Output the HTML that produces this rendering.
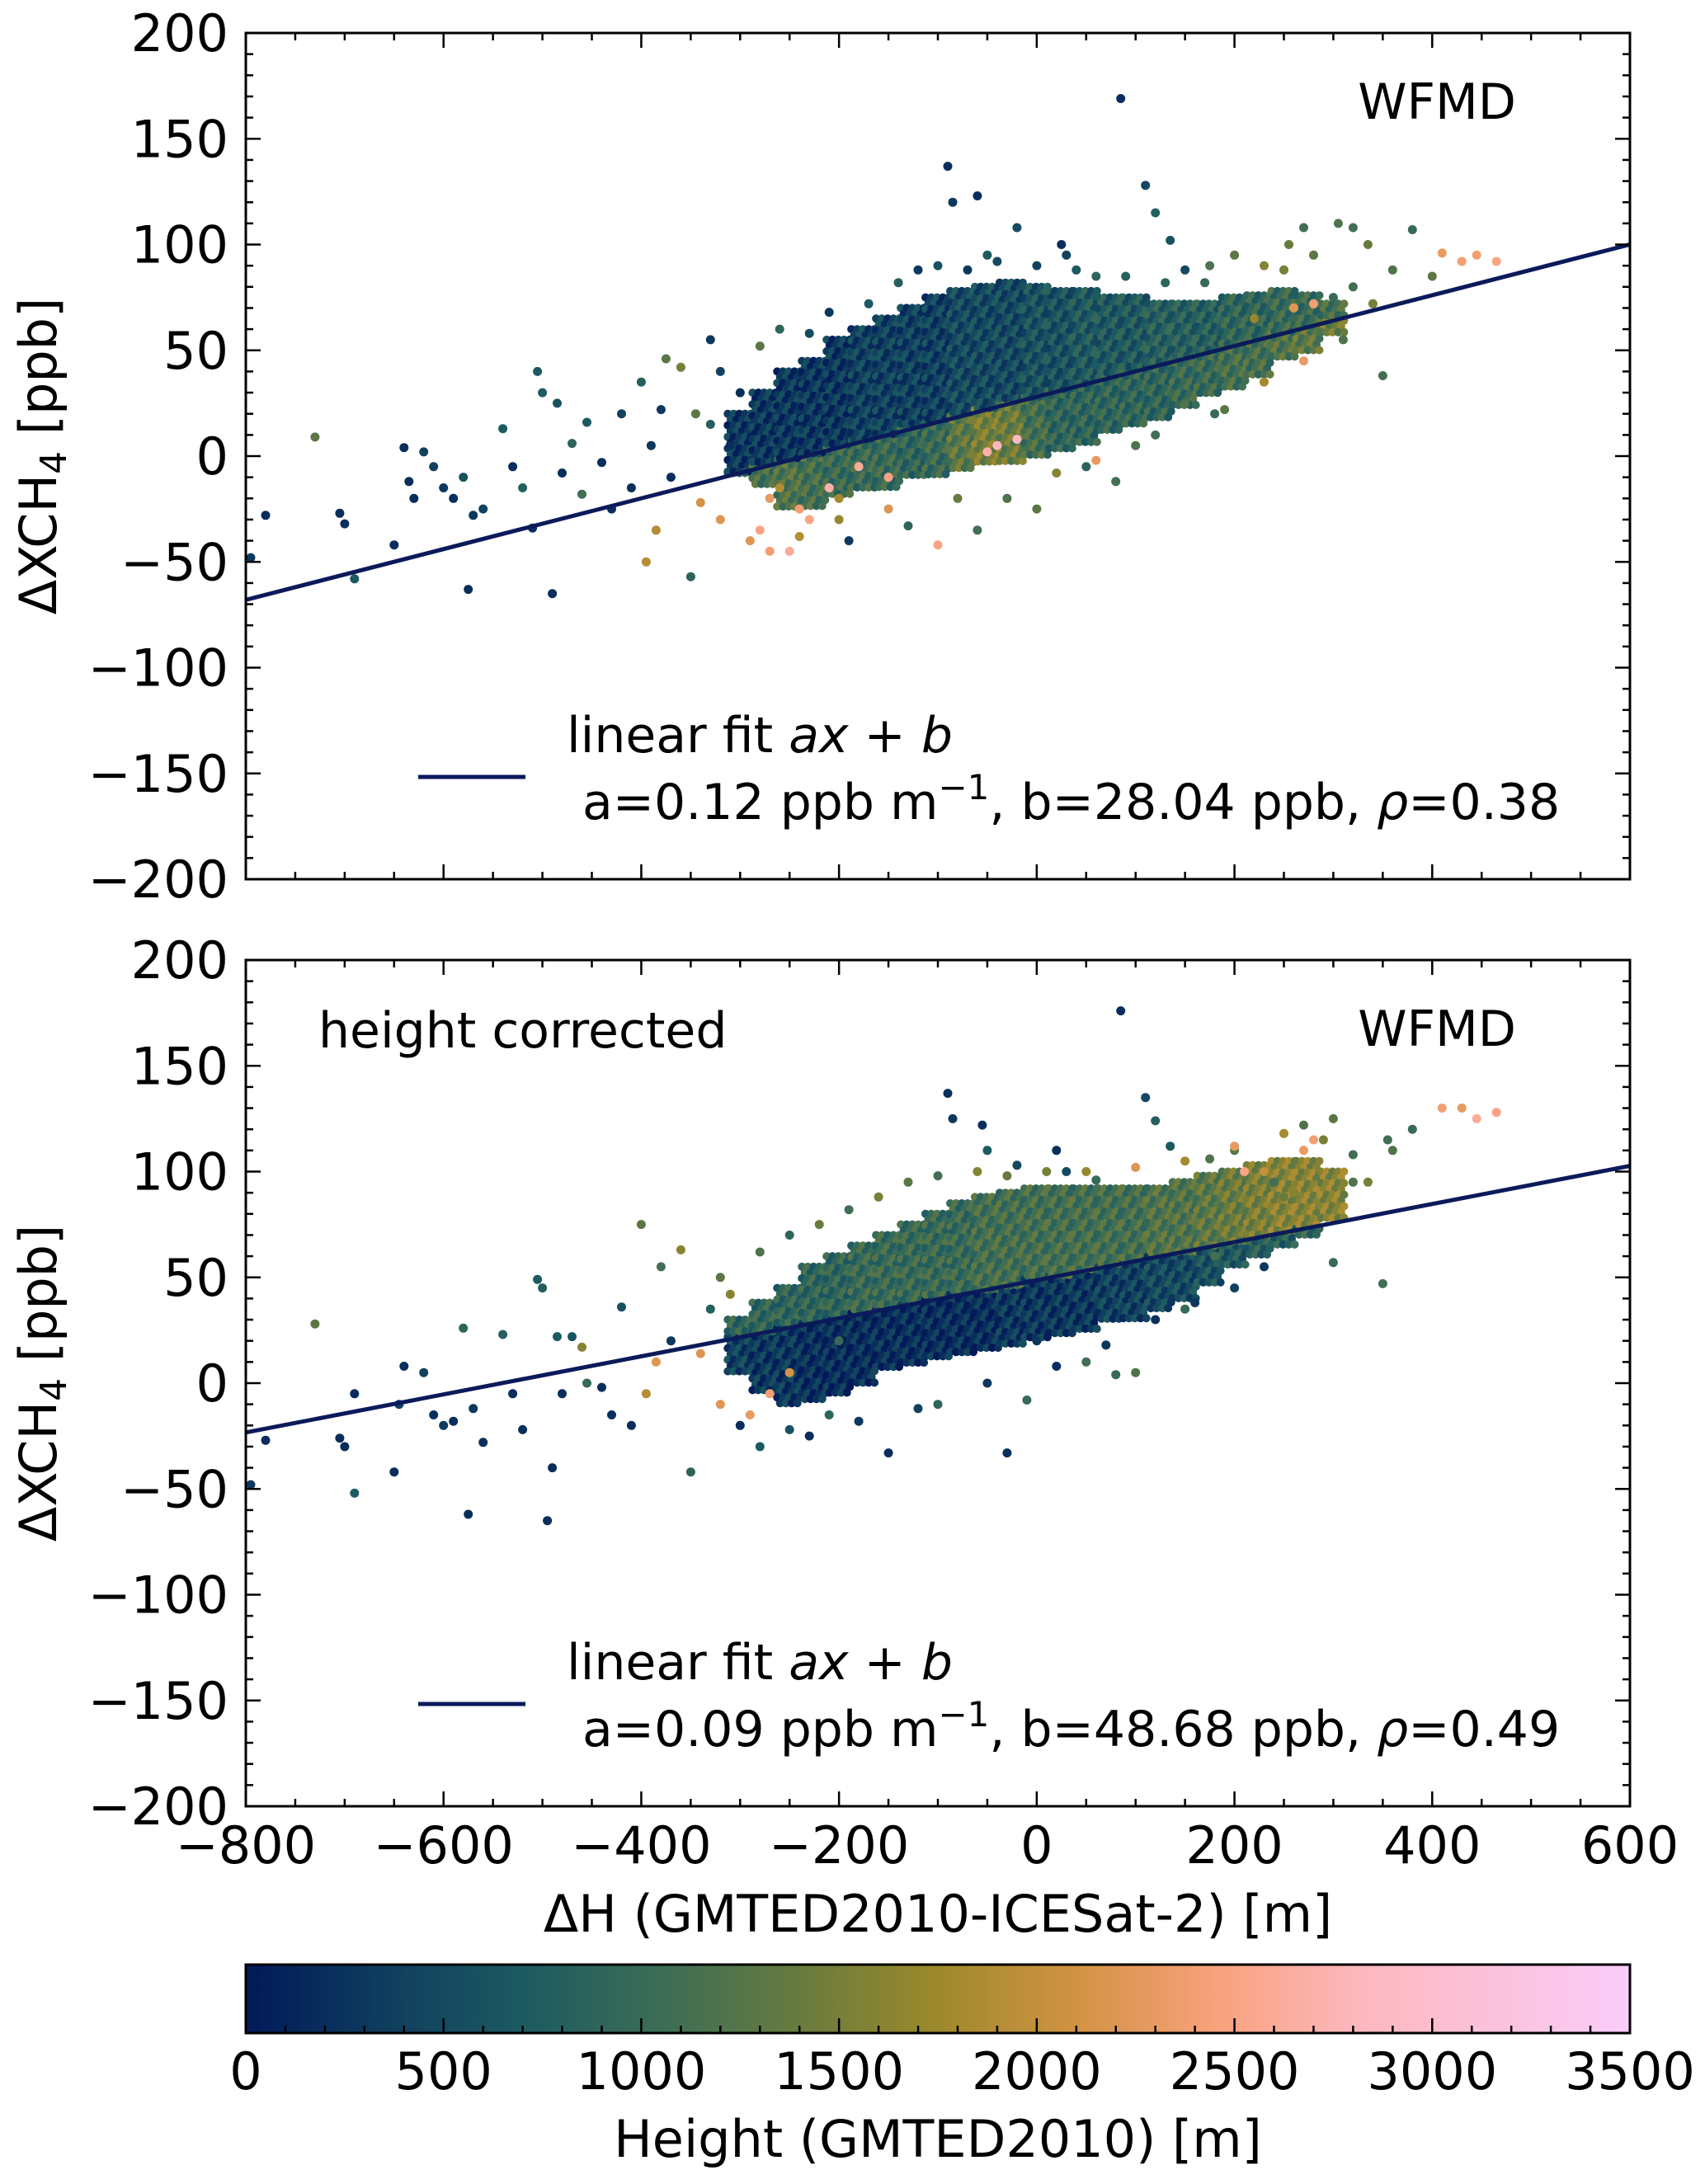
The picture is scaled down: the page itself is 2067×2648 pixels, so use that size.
<!DOCTYPE html>
<html><head><meta charset="utf-8"><style>
html,body{margin:0;padding:0;background:#fff;}
svg{display:block;font-family:"DejaVu Sans","Liberation Sans",sans-serif;}
</style></head><body>
<svg id="fig" width="2067" height="2648" viewBox="0 0 2067 2648" xmlns="http://www.w3.org/2000/svg">
<defs><linearGradient id="batlow" x1="0" x2="1" y1="0" y2="0"></linearGradient></defs>
<g id="layer"></g>
</svg>
<script>
// ---- data ----
const fitTop = [0.12, 28.04];
const fitBot = [0.09, 48.68];
const xTicks = [-800,-600,-400,-200,0,200,400,600];
const yTicks = [-200,-150,-100,-50,0,50,100,150,200];
const cbTicks = [0,500,1000,1500,2000,2500,3000,3500];
// core density bins (x centre, lower/mid/upper bounds, mean heights below/above mid)
const topCoreX = [-300,-275,-250,-225,-200,-175,-150,-125,-100,-75,-50,-25,0,25,50,75,100,125,150,175,200,225,250,275,300];
const topCoreLo = [-10,-15,-25,-25,-20,-15,-15,-10,-10,-8,-5,-5,0,3,5,10,15,18,22,28,32,38,45,50,58];
const topCoreMid = [-8,-5,-2,1,4,7,10,13,16,19,22,25,28,31,34,37,40,43,46,49,52,55,58,61,64];
const topCoreHi = [20,30,40,45,55,60,65,70,75,78,80,82,80,78,78,75,75,72,72,72,75,76,78,76,72];
const topCoreLowH = [1000,1100,1200,1100,1000,1000,1000,900,1000,1300,1500,1400,1100,900,900,900,900,900,1000,1000,1100,1100,1200,1300,1400];
const topCoreUpH = [300,300,300,300,300,400,400,400,400,500,500,500,600,600,700,700,700,800,800,800,900,900,1000,1000,1100];
const botCoreX = [-300,-275,-250,-225,-200,-175,-150,-125,-100,-75,-50,-25,0,25,50,75,100,125,150,175,200,225,250,275,300];
const botCoreLo = [5,-5,-12,-10,-5,0,5,8,10,12,15,18,20,22,25,28,30,35,40,45,55,60,65,70,78];
const botCoreMid = [22,24,26,28,31,33,35,37,40,42,44,46,49,51,53,55,58,60,62,64,67,69,71,73,76];
const botCoreHi = [30,38,45,55,60,65,70,75,80,85,88,90,92,92,92,92,92,92,95,98,100,103,105,105,100];
const botCoreLowH = [400,300,300,200,200,200,200,200,200,200,200,300,300,300,300,400,400,500,500,600,700,800,800,900,900];
const botCoreUpH = [900,900,900,900,900,1000,1000,1000,1000,1000,1100,1100,1100,1100,1100,1100,1100,1200,1200,1300,1400,1500,1600,1600,1600];
// scattered points [dH, dXCH4, height]
const topPts = [[-795,-48,300],[-780,-28,200],[-730,9,1300],[-705,-27,200],[-700,-32,200],[-690,-58,700],[-650,-42,200],[-640,4,200],[-635,-12,200],[-630,-20,200],[-620,2,400],[-610,-5,400],[-600,-15,300],[-590,-20,200],[-580,-10,600],[-575,-63,200],[-570,-28,300],[-560,-25,400],[-540,13,700],[-530,-5,200],[-520,-15,800],[-510,-34,200],[-505,40,700],[-500,30,700],[-490,-65,200],[-485,25,600],[-480,-8,200],[-470,6,900],[-460,-18,1100],[-455,16,700],[-440,-3,200],[-430,-25,200],[-420,20,400],[-410,-15,200],[-400,35,800],[-395,-50,1900],[-390,5,300],[-385,-35,1900],[-380,22,300],[-375,46,1300],[-370,-10,200],[-360,42,1500],[-350,-57,900],[-345,20,1300],[-340,-22,2100],[-330,15,800],[-320,-30,2200],[-310,5,200],[-300,30,200],[-290,-40,2200],[-280,-35,2500],[-270,-20,2300],[-260,-15,1900],[-250,-45,2600],[-240,-25,2400],[-230,-30,2500],[-210,-15,2700],[-200,-20,1800],[-190,-40,300],[-180,-5,2600],[-150,-10,2500],[-90,137,200],[-85,120,300],[-60,123,200],[-50,95,700],[-20,108,500],[25,100,200],[30,95,400],[60,85,900],[85,169,200],[110,128,500],[120,115,800],[135,102,600],[150,88,500],[175,90,1200],[200,95,1300],[255,100,1400],[270,108,1100],[280,95,1300],[305,110,1200],[320,108,1100],[335,100,1400],[360,88,1200],[380,107,1000],[400,85,1300],[410,96,2300],[430,92,2400],[445,95,2400],[465,92,2500],[350,38,1100],[300,75,1000],[250,88,1500],[220,65,1700],[260,70,2200],[280,72,2400],[230,90,1600],[180,20,1000],[150,25,1200],[100,5,1200],[80,-12,1100],[50,-5,900],[0,-25,1300],[-30,-20,1200],[-60,-35,1100],[-100,-42,2500],[-130,-33,900],[-40,5,2800],[-20,8,2900],[-50,2,2700],[-320,40,400],[-330,55,300],[-280,52,1300],[-260,60,900],[-230,58,500],[-210,68,300],[-170,72,700],[-140,82,800],[-120,88,300],[-100,90,600],[-70,88,300],[-40,92,500],[0,90,400],[40,88,700],[90,85,800],[130,82,900],[170,82,1000],[320,80,1100],[340,72,1500],[310,55,1200],[270,45,2300],[230,35,1800],[190,22,1300],[120,10,1100],[60,-2,2300],[20,-8,1600],[-80,-20,1400],[-150,-25,2200],[-200,-30,1700],[-240,-38,1900],[-270,-45,2400]];
const botPts = [[-795,-48,300],[-780,-27,200],[-730,28,1300],[-705,-26,200],[-700,-30,200],[-690,-52,700],[-690,-5,200],[-650,-42,200],[-645,-10,400],[-640,8,200],[-620,5,400],[-610,-15,200],[-600,-20,300],[-590,-18,200],[-580,26,900],[-575,-62,200],[-570,-12,300],[-560,-28,200],[-540,23,800],[-530,-5,200],[-520,-22,200],[-505,49,700],[-500,45,800],[-495,-65,200],[-490,-40,200],[-485,22,700],[-480,-5,200],[-470,22,600],[-460,17,1600],[-455,0,1000],[-440,-2,200],[-430,-15,200],[-420,36,600],[-410,-20,200],[-400,75,1300],[-395,-5,1900],[-385,10,2200],[-380,55,1100],[-370,20,300],[-360,63,1600],[-350,-42,900],[-340,14,2200],[-330,35,800],[-320,-10,2200],[-310,42,1600],[-300,-20,200],[-290,-15,2300],[-270,-5,2400],[-250,5,2100],[-230,-25,200],[-210,-15,900],[-150,-33,200],[-100,-10,900],[-30,-33,200],[-90,137,200],[-85,125,300],[-55,122,200],[-50,110,700],[-20,103,500],[20,110,200],[30,100,500],[60,96,1000],[85,176,200],[110,135,500],[120,124,800],[135,112,700],[175,106,1200],[200,110,1300],[250,118,1800],[270,122,1200],[290,115,1500],[300,125,1300],[320,108,1100],[335,95,1500],[355,115,1100],[380,120,1000],[360,110,1200],[410,130,2400],[430,130,2300],[445,125,2600],[465,128,2500],[350,47,1100],[300,57,1000],[250,88,1400],[270,110,2300],[280,115,2400],[230,100,2000],[210,100,2500],[180,60,1100],[150,35,1000],[100,5,1200],[80,4,1000],[50,10,1100],[-10,-8,1000],[0,20,300],[-200,20,1000],[-320,50,1300],[-280,62,1200],[-250,70,900],[-220,75,1400],[-190,82,1100],[-160,88,1500],[-130,95,1300],[-100,98,1100],[-60,100,1600],[-30,98,1400],[10,100,1500],[50,100,1700],[100,102,2200],[150,105,1800],[200,112,2300],[240,95,1100],[260,90,1600],[320,95,1200],[230,55,300],[200,45,400],[160,38,300],[120,30,200],[70,18,300],[20,8,200],[-50,0,300],[-120,-12,400],[-180,-18,300],[-250,-22,600],[-280,-30,700]];
const cmapStops = [[0,"#011959"],[0.1,"#0f3d5e"],[0.2,"#1c5a62"],[0.3,"#3c6d56"],[0.4,"#687b3e"],[0.5,"#9d892b"],[0.6,"#d29343"],[0.7,"#f8a17b"],[0.8,"#fdb7bc"],[1,"#faccfa"]];

// ---- layout ----
const NS="http://www.w3.org/2000/svg";
const L=298,R=1976;
const panels=[{t:40,b:1066},{t:1164,b:2190}];
const X=v=>L+(v+800)*(R-L)/1400;
const mkY=p=>v=>p.t+(200-v)*(p.b-p.t)/400;
const layer=document.getElementById('layer');
function el(tag,attrs,parent){const e=document.createElementNS(NS,tag);for(const k in attrs)e.setAttribute(k,attrs[k]);(parent||layer).appendChild(e);return e;}
function hex(h){return [1,3,5].map(i=>parseInt(h.substr(i,2),16));}
function cmap(h){let t=Math.max(0,Math.min(1,h/3500));for(let i=1;i<cmapStops.length;i++){if(t<=cmapStops[i][0]){const a=cmapStops[i-1],b=cmapStops[i];const f=(t-a[0])/(b[0]-a[0]);const ca=hex(a[1]),cb=hex(b[1]);return 'rgb('+ca.map((c,j)=>Math.round(c+(cb[j]-c)*f)).join(',')+')';}}return cmapStops[cmapStops.length-1][1];}
const grad=document.getElementById('batlow');
cmapStops.forEach(s=>{const st=document.createElementNS(NS,'stop');st.setAttribute('offset',s[0]);st.setAttribute('stop-color',s[1]);grad.appendChild(st);});

function drawPanel(p,idx,cx,lo,mid,hi,lowH,upH,pts,fit,pname){
  const Y=mkY(p);
  const g=el('g',{});
  
  
  const clip=el('clipPath',{id:'clip'+idx},g);
  el('rect',{x:L,y:p.t,width:R-L,height:p.b-p.t},clip);
  const sc=el('g',{'clip-path':'url(#clip'+idx+')'},g);
  
  
  const bw=25, step=7;
  cx.forEach((x,i)=>{
    const x0=X(x-bw/2),x1=X(x+bw/2);
    const parts=[[lo[i],mid[i],lowH[i]],[mid[i],hi[i],upH[i]]];
    parts.forEach((pp,pi)=>{
      const ya=Y(pp[1]),yb=Y(pp[0]);
      const cols=[cmap(pp[2]),cmap(pp[2]+250),cmap(Math.max(0,pp[2]-250))];
      let k=0;
      for(let yy=ya;yy<=yb;yy+=step){let m=0;for(let xx=x0+((k%2)?step/2:0);xx<=x1;xx+=step){
        const c=el('circle',{cx:xx.toFixed(1),cy:yy.toFixed(1),r:5,fill:cols[(k+m+i)%3]},sc);
        
        
        m++;
      }k++;}
    });
  });
  pts.forEach(d=>{
    const c=el('circle',{cx:X(d[0]).toFixed(1),cy:Y(d[1]).toFixed(1),r:5.5,fill:cmap(d[2])},sc);
    
    
  });
  const fl=el('line',{x1:X(-800),y1:Y(fit[0]*-800+fit[1]),x2:X(600),y2:Y(fit[0]*600+fit[1]),stroke:'#0a1a5a','stroke-width':5},sc);
  
  
  const fr=el('rect',{x:L,y:p.t,width:R-L,height:p.b-p.t,fill:'none',stroke:'#000','stroke-width':3},g);
  
  
  for(let v=-200;v<=200;v+=10){const y=Y(v);const major=v%50===0;const len=major?18:9;
    el('line',{x1:L,y1:y,x2:L+len,y2:y,stroke:'#000','stroke-width':2.5},g);
    el('line',{x1:R,y1:y,x2:R-len,y2:y,stroke:'#000','stroke-width':2.5},g);}
  yTicks.forEach(v=>{const t=el('text',{x:277,y:Y(v)+22,'text-anchor':'end','font-size':62},g);t.textContent=(v<0?'\u2212':'')+Math.abs(v);
    
    });
  for(let v=-800;v<=600;v+=50){const x=X(v);const major=v%200===0;const len=major?18:9;
    el('line',{x1:x,y1:p.b,x2:x,y2:p.b-len,stroke:'#000','stroke-width':2.5},g);
    el('line',{x1:x,y1:p.t,x2:x,y2:p.t+len,stroke:'#000','stroke-width':2.5},g);}
  const yl=el('text',{x:0,y:0,'text-anchor':'middle','font-size':62,transform:'translate(68,'+((p.t+p.b)/2)+') rotate(-90)'},g);
  yl.innerHTML='\u0394XCH<tspan font-size="44" dy="12">4</tspan><tspan dy="-12"> [ppb]</tspan>';
  
  
  const w=el('text',{x:1838,y:p.t+104,'text-anchor':'end','font-size':60},g);w.textContent='WFMD';
  
  
  const lg=el('g',{},g);
  
  
  el('line',{x1:507,y1:p.t+902,x2:637,y2:p.t+902,stroke:'#0a1a5a','stroke-width':5},lg);
  const t1=el('text',{x:687,y:p.t+872,'font-size':60},lg);
  t1.innerHTML='linear fit <tspan font-style="italic">ax</tspan> + <tspan font-style="italic">b</tspan>';
  const t2=el('text',{x:706,y:p.t+953,'font-size':60},lg);
  const rho = idx===0?'0.38':'0.49';
  t2.innerHTML='a='+fit[0].toFixed(2)+' ppb m<tspan font-size="42" dy="-24">\u22121</tspan><tspan dy="24">, b='+fit[1].toFixed(2)+' ppb, </tspan><tspan font-style="italic">\u03c1</tspan>='+rho;
}
drawPanel(panels[0],0,topCoreX,topCoreLo,topCoreMid,topCoreHi,topCoreLowH,topCoreUpH,topPts,fitTop,'top-panel');
drawPanel(panels[1],1,botCoreX,botCoreLo,botCoreMid,botCoreHi,botCoreLowH,botCoreUpH,botPts,fitBot,'bottom-panel');
const hc=el('text',{x:386,y:1270,'font-size':60});hc.textContent='height corrected';


xTicks.forEach(v=>{const t=el('text',{x:X(v),y:2259,'text-anchor':'middle','font-size':62});t.textContent=(v<0?'\u2212':'')+Math.abs(v);
  
  });
const xl=el('text',{x:1137,y:2342,'text-anchor':'middle','font-size':62});xl.textContent='\u0394H (GMTED2010-ICESat-2) [m]';


const CB={t:2382,b:2465};
const cbx=v=>L+v*(R-L)/3500;
const cb=el('rect',{x:L,y:CB.t,width:R-L,height:CB.b-CB.t,fill:'url(#batlow)',stroke:'#000','stroke-width':3});


for(let v=0;v<=3500;v+=100){const major=v%500===0;el('line',{x1:cbx(v),y1:CB.b,x2:cbx(v),y2:CB.b-(major?18:9),stroke:'#000','stroke-width':2.5});}
cbTicks.forEach(v=>{const t=el('text',{x:cbx(v),y:2533,'text-anchor':'middle','font-size':62});t.textContent=v;
  
  });
const cl=el('text',{x:1137,y:2615,'text-anchor':'middle','font-size':62});cl.textContent='Height (GMTED2010) [m]';


</script>
</body></html>
